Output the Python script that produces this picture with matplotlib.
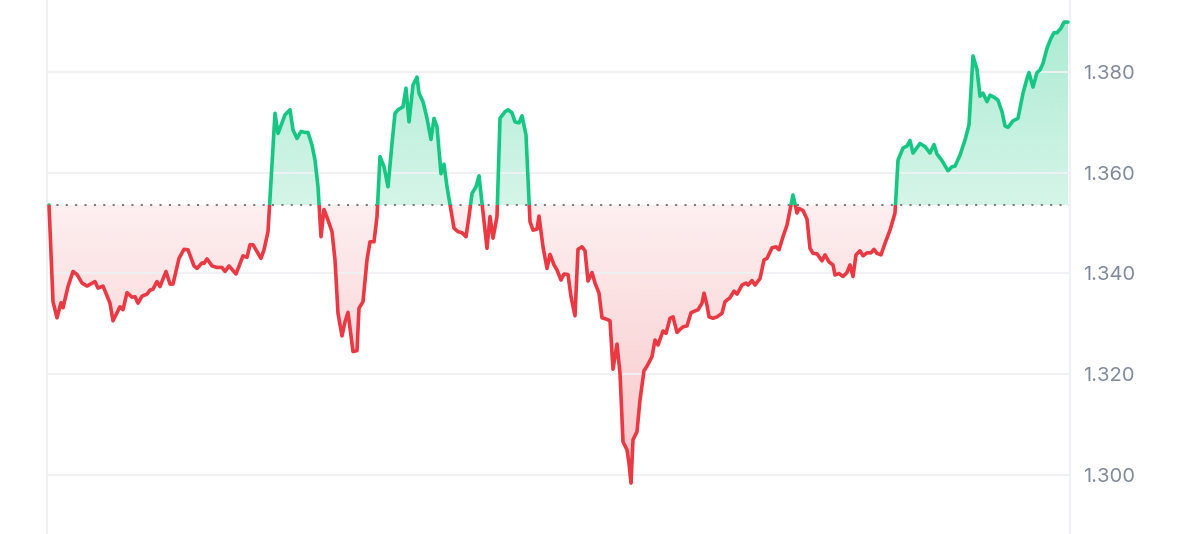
import numpy as np
import matplotlib
matplotlib.use("Agg")
import matplotlib.pyplot as plt
from matplotlib.patches import Rectangle
from matplotlib.path import Path

plt.rcParams['font.family'] = ['Inter', 'DejaVu Sans']

# time steps (roughly 1 per pixel of the original chart) and price
t = [0, 4, 8, 12, 14, 19, 24, 28, 33, 38,
     46, 49, 54, 61, 64, 71, 74, 78, 83, 86,
     89, 93, 98, 101, 104, 108, 111, 117, 121, 124,
     130, 135, 139, 145, 148, 153, 155, 158, 163, 168,
     173, 176, 180, 187, 194, 198, 201, 204, 212, 215,
     219, 226, 229, 236, 241, 244, 248, 252, 256, 259,
     263, 266, 269, 272, 275, 279, 283, 286, 289, 293,
     296, 299, 304, 308, 310, 314, 318, 321, 325, 328,
     331, 335, 339, 343, 346, 349, 354, 357, 360, 364,
     368, 370, 374, 378, 382, 385, 388, 392, 395, 398,
     405, 409, 413, 417, 420, 423, 427, 430, 438, 441,
     444, 448, 451, 456, 459, 463, 466, 470, 473, 477,
     481, 484, 488, 490, 494, 498, 501, 505, 508, 512,
     515, 519, 522, 526, 529, 533, 536, 539, 543, 546,
     550, 553, 558, 561, 564, 568, 571, 574, 578, 580,
     582, 584, 588, 591, 595, 598, 603, 606, 609, 614,
     617, 621, 624, 628, 631, 634, 638, 642, 644, 649,
     653, 655, 658, 660, 664, 668, 673, 676, 681, 685,
     688, 693, 697, 699, 703, 706, 711, 715, 718, 723,
     727, 730, 734, 738, 744, 748, 750, 754, 758, 761,
     764, 768, 773, 776, 780, 784, 786, 790, 794, 798,
     801, 804, 807, 811, 814, 818, 822, 825, 828, 832,
     836, 841, 846, 849, 854, 858, 861, 864, 871, 876,
     881, 885, 888, 893, 899, 903, 906, 911, 916, 920,
     924, 928, 931, 934, 938, 941, 945, 949, 953, 956,
     959, 964, 969, 974, 978, 980, 984, 988, 991, 994,
     998, 1002, 1005, 1008, 1012, 1015, 1019]

price = [1.3536, 1.3344, 1.3312, 1.3342, 1.3332, 1.3374, 1.3404, 1.3398, 1.3381, 1.3375,
         1.3384, 1.3371, 1.3375, 1.3341, 1.3306, 1.3334, 1.3328, 1.3362, 1.3353, 1.3354,
         1.3341, 1.3355, 1.3359, 1.3367, 1.3369, 1.3384, 1.3374, 1.3404, 1.3379, 1.3379,
         1.3430, 1.3448, 1.3447, 1.3415, 1.3410, 1.3421, 1.3420, 1.3429, 1.3415, 1.3412,
         1.3412, 1.3404, 1.3415, 1.3399, 1.3435, 1.3432, 1.3457, 1.3457, 1.3430, 1.3447,
         1.3483, 1.3718, 1.3678, 1.3715, 1.3725, 1.3685, 1.3668, 1.3682, 1.3680, 1.3680,
         1.3655, 1.3625, 1.3572, 1.3473, 1.3527, 1.3506, 1.3483, 1.3427, 1.3321, 1.3276,
         1.3304, 1.3323, 1.3245, 1.3247, 1.3331, 1.3344, 1.3427, 1.3463, 1.3463, 1.3513,
         1.3632, 1.3612, 1.3572, 1.3658, 1.3718, 1.3725, 1.3731, 1.3768, 1.3701, 1.3774,
         1.3790, 1.3758, 1.3741, 1.3708, 1.3666, 1.3708, 1.3691, 1.3598, 1.3617, 1.3572,
         1.3490, 1.3483, 1.3481, 1.3473, 1.3513, 1.3559, 1.3572, 1.3594, 1.3450, 1.3513,
         1.3470, 1.3513, 1.3708, 1.3721, 1.3725, 1.3719, 1.3701, 1.3699, 1.3713, 1.3675,
         1.3503, 1.3486, 1.3488, 1.3514, 1.3453, 1.3410, 1.3438, 1.3417, 1.3407, 1.3387,
         1.3399, 1.3398, 1.3354, 1.3316, 1.3448, 1.3453, 1.3445, 1.3385, 1.3402, 1.3381,
         1.3361, 1.3312, 1.3309, 1.3306, 1.3210, 1.3260, 1.3202, 1.3066, 1.3050, 1.3023,
         1.2984, 1.3070, 1.3086, 1.3149, 1.3207, 1.3216, 1.3235, 1.3268, 1.3258, 1.3286,
         1.3281, 1.3311, 1.3314, 1.3283, 1.3289, 1.3294, 1.3296, 1.3322, 1.3324, 1.3328,
         1.3341, 1.3361, 1.3337, 1.3314, 1.3311, 1.3314, 1.3321, 1.3344, 1.3352, 1.3365,
         1.3359, 1.3377, 1.3381, 1.3377, 1.3386, 1.3377, 1.3390, 1.3427, 1.3430, 1.3451,
         1.3453, 1.3447, 1.3473, 1.3496, 1.3556, 1.3520, 1.3529, 1.3525, 1.3508, 1.3450,
         1.3440, 1.3439, 1.3425, 1.3437, 1.3423, 1.3417, 1.3397, 1.3400, 1.3394, 1.3402,
         1.3417, 1.3394, 1.3437, 1.3445, 1.3435, 1.3441, 1.3441, 1.3448, 1.3440, 1.3437,
         1.3460, 1.3486, 1.3520, 1.3625, 1.3649, 1.3653, 1.3664, 1.3639, 1.3658, 1.3652,
         1.3639, 1.3656, 1.3637, 1.3624, 1.3604, 1.3612, 1.3613, 1.3635, 1.3665, 1.3695,
         1.3832, 1.3805, 1.3752, 1.3758, 1.3741, 1.3754, 1.3750, 1.3744, 1.3721, 1.3693,
         1.3690, 1.3703, 1.3708, 1.3758, 1.3787, 1.3799, 1.3770, 1.3799, 1.3804, 1.3817,
         1.3847, 1.3867, 1.3878, 1.3878, 1.3887, 1.3899, 1.3899]

yticks = [1.300, 1.320, 1.340, 1.360, 1.380]

GREEN = "#16c784"
RED = "#ea3943"

t = np.array(t, dtype=float)
price = np.array(price)
base = price[0]

fig = plt.figure(figsize=(12, 5.34), dpi=100)
ax = fig.add_axes([47 / 1200, 0, 1023 / 1200, 1])
ax.set_xlim(-2, 1021)
ax.set_ylim(1.28829, 1.39429)
x0, x1 = ax.get_xlim()
y0, y1 = ax.get_ylim()


def gradient(color, a_near, a_far, top, bottom, far_at_top):
    rgb = np.array(matplotlib.colors.to_rgb(color))
    n = 256
    img = np.zeros((n, 1, 4))
    img[:, 0, :3] = rgb
    a = np.linspace(a_far, a_near, n) if far_at_top else np.linspace(a_near, a_far, n)
    img[:, 0, 3] = a
    return ax.imshow(img, extent=[x0, x1, bottom, top], aspect="auto",
                     origin="upper", zorder=1, interpolation="bilinear")


def clip_to(im, coll):
    paths = coll.get_paths()
    if len(paths):
        im.set_clip_path(Path.make_compound_path(*paths), ax.transData)


# fills: green above opening price, red below, gradient stronger away from it
up = ax.fill_between(t, price, base, where=price >= base, interpolate=True,
                     facecolor="none", edgecolor="none")
dn = ax.fill_between(t, price, base, where=price <= base, interpolate=True,
                     facecolor="none", edgecolor="none")
g_im = gradient(GREEN, 0.18, 0.36, 1.3905, base, True)
clip_to(g_im, up)
r_im = gradient(RED, 0.08, 0.30, base, 1.297, False)
clip_to(r_im, dn)

ax.axhline(base, color="#7d7d7d", lw=1.5, ls=(0, (1, 3.5)), zorder=2)

# line split at the baseline
for col, rect in [(GREEN, Rectangle((x0, base), x1 - x0, y1 - base, transform=ax.transData)),
                  (RED, Rectangle((x0, y0), x1 - x0, base - y0, transform=ax.transData))]:
    ln, = ax.plot(t, price, color=col, lw=2.6, zorder=3,
                  solid_joinstyle="round", solid_capstyle="round")
    ln.set_clip_path(rect)

ax.set_yticks(yticks)
ax.set_yticklabels([f"{v:.3f}" for v in yticks])
ax.yaxis.tick_right()
ax.tick_params(axis="y", length=0, pad=9.5, labelsize=14.5, labelcolor="#808a9d")
ax.set_xticks([])
ax.grid(axis="y", color="#eff1f4", lw=1.4, zorder=0)
for s in ["top", "bottom"]:
    ax.spines[s].set_visible(False)
for s in ["left", "right"]:
    ax.spines[s].set_color("#eff1f4")
    ax.spines[s].set_linewidth(1.4)

fig.savefig("out.png", dpi=100)
